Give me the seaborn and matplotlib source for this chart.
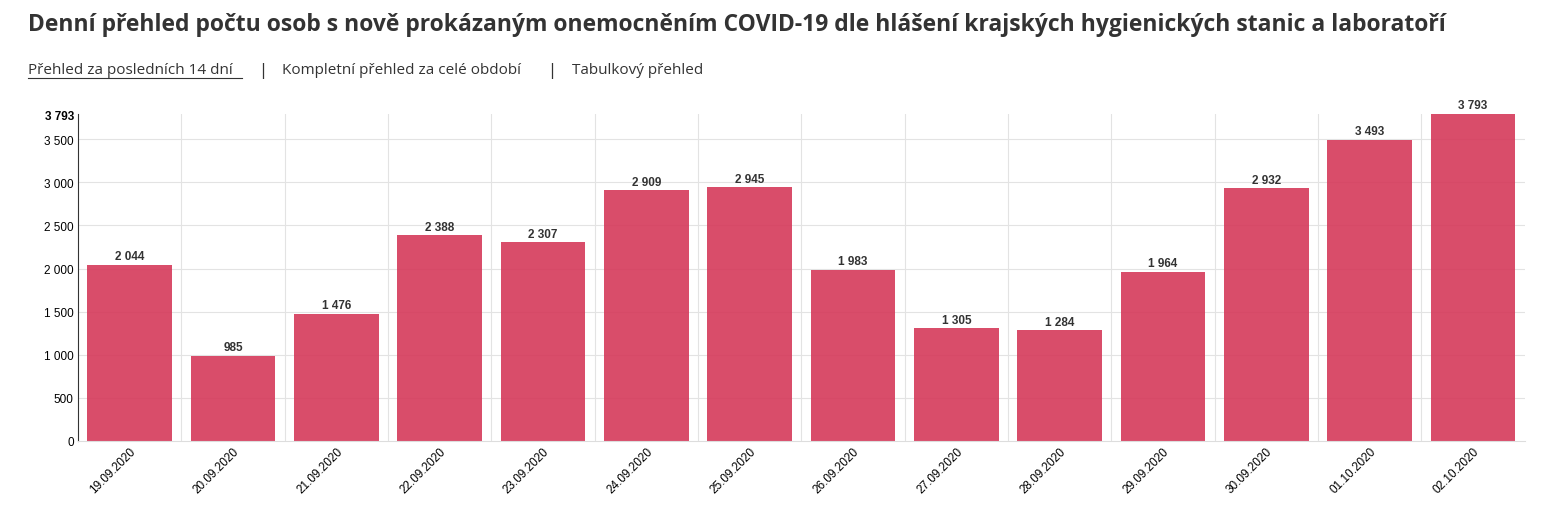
import matplotlib.pyplot as plt
import seaborn as sns
import pandas as pd

dates = ["19.09.2020", "20.09.2020", "21.09.2020", "22.09.2020", "23.09.2020",
         "24.09.2020", "25.09.2020", "26.09.2020", "27.09.2020", "28.09.2020",
         "29.09.2020", "30.09.2020", "01.10.2020", "02.10.2020"]
cases = [2044, 985, 1476, 2388, 2307, 2909, 2945, 1983, 1305, 1284, 1964, 2932, 3493, 3793]
yticks = [0, 500, 1000, 1500, 2000, 2500, 3000, 3500, 3793]

df = pd.DataFrame({"datum": dates, "pocet": cases})

def fmt(v):
    return f"{v:,}".replace(",", " ")

fig = plt.figure(figsize=(15.59, 5.06), dpi=100)
ax = fig.add_axes([0.050, 0.1265, 0.928, 0.6462])
sns.barplot(data=df, x="datum", y="pocet", color="#d5395a", alpha=0.9,
            width=0.82, saturation=1, ax=ax)

ax.set_ylim(0, 3793)
ax.set_xlim(-0.5, len(dates) - 0.5)
ax.set_yticks(yticks)
ax.set_yticklabels([fmt(v) for v in yticks], fontsize=8.5, family="Liberation Sans")
ax.get_yticklabels()[-1].set_fontweight("bold")
ax.set_xticks(range(len(dates)))
ax.set_xticklabels(dates, rotation=45, ha="right", rotation_mode="anchor",
                   fontsize=8.5, family="Liberation Sans")
ax.set_xlabel("")
ax.set_ylabel("")
ax.tick_params(length=0, pad=3)

for y in yticks[1:-1]:
    ax.axhline(y, color="#e3e3e3", lw=0.8, zorder=0)
for x in range(len(dates) - 1):
    ax.axvline(x + 0.5, color="#e3e3e3", lw=0.8, zorder=0)
ax.set_axisbelow(True)

for s in ["top", "right"]:
    ax.spines[s].set_visible(False)
ax.spines["left"].set_color("#333333")
ax.spines["bottom"].set_color("#dddddd")

for i, v in enumerate(cases):
    ax.text(i, v + 30, fmt(v), ha="center", va="bottom", fontsize=8.5,
            fontweight="bold", color="#333333", family="Liberation Sans")

fig.text(0.018, 0.95, "Denní přehled počtu osob s nově prokázaným onemocněním COVID-19 dle hlášení krajských hygienických stanic a laboratoří",
         fontsize=16.5, fontweight="bold", family="Open Sans", color="#333333", va="center")
fig.text(0.018, 0.86, "Přehled za posledních 14 dní", fontsize=11, family="Open Sans",
         color="#333333", va="center")
fig.add_artist(plt.Line2D([0.018, 0.155], [0.843, 0.843], color="#333333", lw=0.8))
fig.text(0.167, 0.86, "|", fontsize=11, color="#333333", va="center")
fig.text(0.181, 0.86, "Kompletní přehled za celé období", fontsize=11, family="Open Sans",
         color="#333333", va="center")
fig.text(0.352, 0.86, "|", fontsize=11, color="#333333", va="center")
fig.text(0.367, 0.86, "Tabulkový přehled", fontsize=11, family="Open Sans",
         color="#333333", va="center")

fig.savefig("out.png", dpi=100)
